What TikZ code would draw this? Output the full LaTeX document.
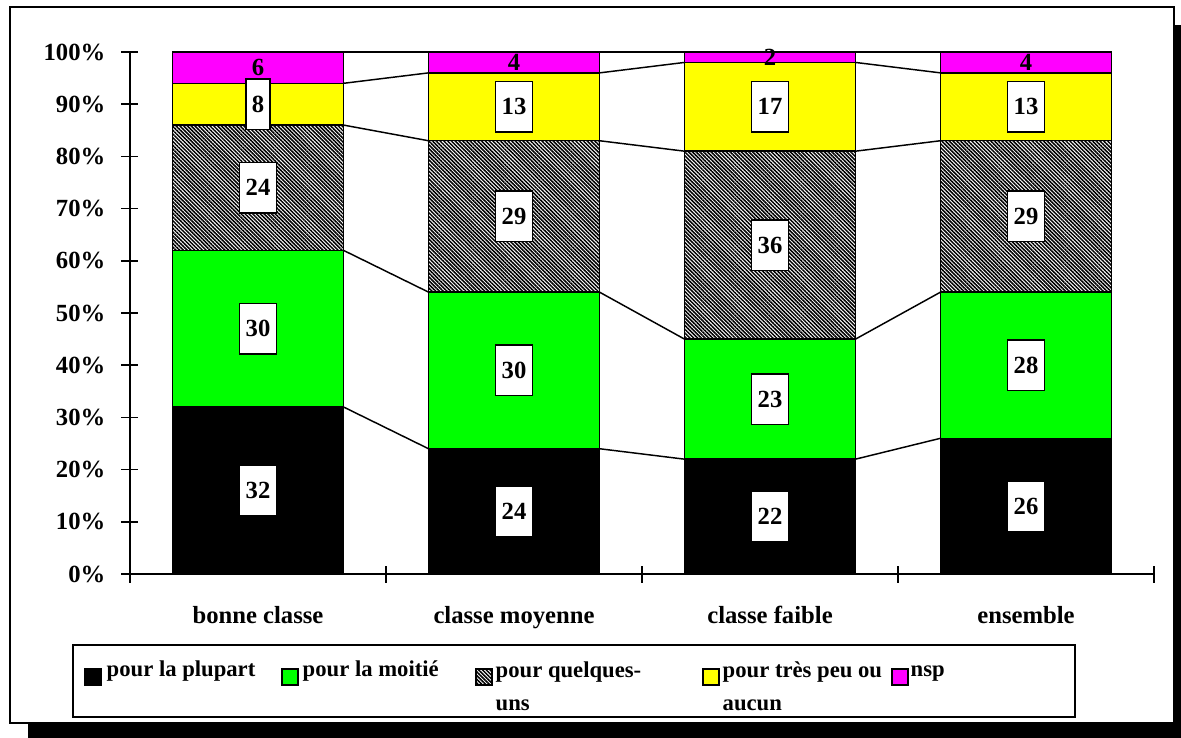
\documentclass[tikz,border=0pt]{standalone}
\usepackage{fontspec}
\setmainfont{Liberation Serif}
\usetikzlibrary{patterns.meta}

\definecolor{magentaseg}{RGB}{255,0,255}
\definecolor{yellowseg}{RGB}{255,255,0}
\definecolor{greenseg}{RGB}{0,255,0}

\tikzset{
  seg/.style={draw=black, line width=1.1pt, minimum width=128.25pt, minimum height=#1*3.915pt, inner sep=0pt, outer sep=0pt, anchor=south},
  hatch/.style={pattern={Lines[angle=-45,distance=2pt,line width=1.15pt]}, pattern color=black},
  val/.style={draw=black, fill=white, line width=1.1pt, minimum height=38pt, inner xsep=4.5pt, inner ysep=0pt},
  numtxt/.style={inner sep=0pt},
  axlabel/.style={anchor=east, inner sep=0pt},
  catlabel/.style={anchor=base, inner sep=0pt},
  keybox/.style={draw=black, line width=0.9pt, minimum size=12pt, inner sep=0pt},
  keytext/.style={inner sep=0pt, align=left, font=\bfseries\fontsize{17}{24.5}\selectfont}
}

\begin{document}
\begin{tikzpicture}[x=0.75pt, y=-0.75pt, font=\bfseries\fontsize{18.5}{22}\selectfont, every path/.style={line width=1.1pt}]
\useasboundingbox (0,0) rectangle (1181,738);

% frame and shadow
\fill[black] (28,723) rectangle (1181,738);
\fill[black] (1174,25) rectangle (1181,738);
\draw[fill=white] (10,7) rectangle (1174,723);

% axes
\draw (130,52) -- (130,574);
\draw (130,574) -- (1154,574);
\draw (130,566) -- (130,583);
\draw (386,566) -- (386,583);
\draw (642,566) -- (642,583);
\draw (898,566) -- (898,583);
\draw (1154,566) -- (1154,583);

\begin{scope}[shift={(0,574)}, y=3.915pt]
  \node[axlabel] (l0) at (106,0) {0\%};
  \node[axlabel] (l10) at (106,10) {10\%};
  \node[axlabel] (l20) at (106,20) {20\%};
  \node[axlabel] (l30) at (106,30) {30\%};
  \node[axlabel] (l40) at (106,40) {40\%};
  \node[axlabel] (l50) at (106,50) {50\%};
  \node[axlabel] (l60) at (106,60) {60\%};
  \node[axlabel] (l70) at (106,70) {70\%};
  \node[axlabel] (l80) at (106,80) {80\%};
  \node[axlabel] (l90) at (106,90) {90\%};
  \node[axlabel] (l100) at (106,100) {100\%};

  \draw (121,0) -- (138,0);
  \draw (121,10) -- (138,10);
  \draw (121,20) -- (138,20);
  \draw (121,30) -- (138,30);
  \draw (121,40) -- (138,40);
  \draw (121,50) -- (138,50);
  \draw (121,60) -- (138,60);
  \draw (121,70) -- (138,70);
  \draw (121,80) -- (138,80);
  \draw (121,90) -- (138,90);
  \draw (121,100) -- (138,100);

  % bonne classe
  \node[seg=32, fill=black] (a1) at (258,0) {};
  \node[seg=30, fill=greenseg] (a2) at (258,32) {};
  \node[seg=24, hatch] (a3) at (258,62) {};
  \node[seg=8, fill=yellowseg] (a4) at (258,86) {};
  \node[seg=6, fill=magentaseg] (a5) at (258,94) {};

  % classe moyenne
  \node[seg=24, fill=black] (b1) at (514,0) {};
  \node[seg=30, fill=greenseg] (b2) at (514,24) {};
  \node[seg=29, hatch] (b3) at (514,54) {};
  \node[seg=13, fill=yellowseg] (b4) at (514,83) {};
  \node[seg=4, fill=magentaseg] (b5) at (514,96) {};

  % classe faible
  \node[seg=22, fill=black] (c1) at (770,0) {};
  \node[seg=23, fill=greenseg] (c2) at (770,22) {};
  \node[seg=36, hatch] (c3) at (770,45) {};
  \node[seg=17, fill=yellowseg] (c4) at (770,81) {};
  \node[seg=2, fill=magentaseg] (c5) at (770,98) {};

  % ensemble
  \node[seg=26, fill=black] (d1) at (1026,0) {};
  \node[seg=28, fill=greenseg] (d2) at (1026,26) {};
  \node[seg=29, hatch] (d3) at (1026,54) {};
  \node[seg=13, fill=yellowseg] (d4) at (1026,83) {};
  \node[seg=4, fill=magentaseg] (d5) at (1026,96) {};

  \draw (a1.north east) -- (b1.north west);
  \draw (a2.north east) -- (b2.north west);
  \draw (a3.north east) -- (b3.north west);
  \draw (a4.north east) -- (b4.north west);
  \draw (a5.north east) -- (b5.north west);
  \draw (b1.north east) -- (c1.north west);
  \draw (b2.north east) -- (c2.north west);
  \draw (b3.north east) -- (c3.north west);
  \draw (b4.north east) -- (c4.north west);
  \draw (b5.north east) -- (c5.north west);
  \draw (c1.north east) -- (d1.north west);
  \draw (c2.north east) -- (d2.north west);
  \draw (c3.north east) -- (d3.north west);
  \draw (c4.north east) -- (d4.north west);
  \draw (c5.north east) -- (d5.north west);

  \node[val] (va1) at (258,16) {32};
  \node[val] (va2) at (258,47) {30};
  \node[val] (va3) at (258,74) {24};
  \node[val] (va4) at (258,90) {8};
  \node[numtxt] (va5) at (258,97) {6};

  \node[val] (vb1) at (514,12) {24};
  \node[val] (vb2) at (514,39) {30};
  \node[val] (vb3) at (514,68.5) {29};
  \node[val] (vb4) at (514,89.5) {13};
  \node[numtxt] (vb5) at (514,98) {4};

  \node[val] (vc1) at (770,11) {22};
  \node[val] (vc2) at (770,33.5) {23};
  \node[val] (vc3) at (770,63) {36};
  \node[val] (vc4) at (770,89.5) {17};
  \node[numtxt] (vc5) at (770,99) {2};

  \node[val] (vd1) at (1026,13) {26};
  \node[val] (vd2) at (1026,40) {28};
  \node[val] (vd3) at (1026,68.5) {29};
  \node[val] (vd4) at (1026,89.5) {13};
  \node[numtxt] (vd5) at (1026,98) {4};
\end{scope}

\node[catlabel] (cat1) at (258,623) {bonne classe};
\node[catlabel] (cat2) at (514,623) {classe moyenne};
\node[catlabel] (cat3) at (770,623) {classe faible};
\node[catlabel] (cat4) at (1026,623) {ensemble};

% legend
\draw (73,645) rectangle (1075,717);
\node[keybox, fill=black] (k1) at (93,677) {};
\node[keybox, fill=greenseg] (k2) at (290,677) {};
\node[keybox, hatch] (k3) at (484,677) {};
\node[keybox, fill=yellowseg] (k4) at (711,677) {};
\node[keybox, fill=magentaseg] (k5) at (900,677) {};
\node[keytext, anchor=base west] (t1) at (106,676) {pour la plupart};
\node[keytext, anchor=base west] (t2) at (302,676) {pour la moitié};
\node[keytext, anchor=north west] (t3) at (495,661) {pour quelques-\\uns};
\node[keytext, anchor=north west] (t4) at (722,661) {pour très peu ou\\aucun};
\node[keytext, anchor=base west] (t5) at (910,676) {nsp};
\end{tikzpicture}
\end{document}
